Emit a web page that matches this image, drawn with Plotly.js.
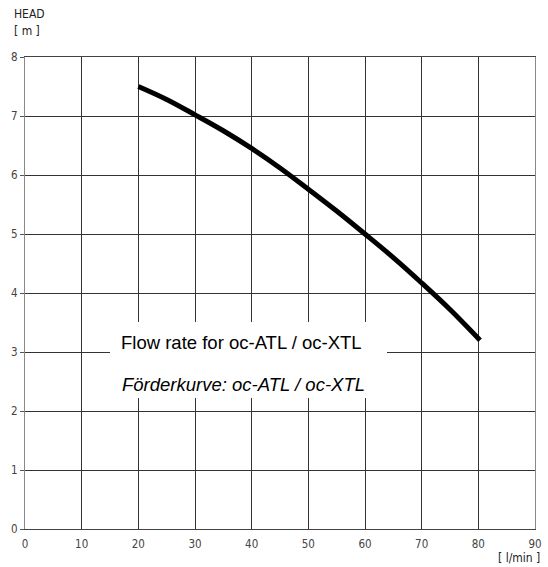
<!DOCTYPE html>
<html>
<head>
<meta charset="utf-8">
<script src="https://cdn.plot.ly/plotly-3.0.1.min.js"></script>
<style>html,body{margin:0;padding:0;background:#fff;}#chart{width:548px;height:567px;}</style>
</head>
<body>
<div id="chart"></div>
<script>
const flowRate = [20, 25, 30, 35, 40, 45, 50, 55, 60, 65, 70, 75, 80.3];
const head = [7.5, 7.28, 7.02, 6.75, 6.45, 6.12, 5.76, 5.39, 5.0, 4.6, 4.17, 3.72, 3.2];
const xTicks = [0, 10, 20, 30, 40, 50, 60, 70, 80, 90];
const yTicks = [0, 1, 2, 3, 4, 5, 6, 7, 8];
const titleEn = 'Flow rate for oc-ATL / oc-XTL';
const titleDe = 'Förderkurve: oc-ATL / oc-XTL';

const tickFont = {family: 'DejaVu Sans Condensed, DejaVu Sans', size: 11.5, color: '#444'};
const labelFont = {family: 'DejaVu Sans Condensed, DejaVu Sans', size: 12, color: '#222'};

Plotly.newPlot('chart', [{
  x: flowRate, y: head, type: 'scatter', mode: 'lines',
  line: {color: '#000', width: 5, shape: 'spline'}, hoverinfo: 'none'
}], {
  width: 548, height: 567,
  margin: {l: 25, r: 13, t: 57, b: 38},
  paper_bgcolor: '#fff', plot_bgcolor: '#fff',
  showlegend: false,
  xaxis: {
    range: [0, 90], tickvals: xTicks, ticktext: xTicks.map(String),
    showgrid: true, gridcolor: '#333', gridwidth: 1, zeroline: false,
    showline: true, linecolor: '#444', linewidth: 1, mirror: true,
    ticks: '', ticklabelstandoff: 4, tickfont: tickFont, fixedrange: true
  },
  yaxis: {
    range: [0, 8], tickvals: yTicks, ticktext: yTicks.map(String),
    showgrid: true, gridcolor: '#333', gridwidth: 1, zeroline: false,
    showline: true, linecolor: '#888', linewidth: 1, mirror: true,
    ticks: 'outside', ticklen: 4, tickcolor: '#555', tickfont: tickFont, fixedrange: true
  },
  shapes: [{
    type: 'rect', xref: 'paper', yref: 'paper', layer: 'above',
    x0: (110 - 25) / 510, x1: (387 - 25) / 510,
    y0: (529 - 398) / 472, y1: (529 - 322) / 472,
    fillcolor: '#fff', line: {width: 0}
  }],
  annotations: [
    {text: 'HEAD', xref: 'paper', yref: 'paper', x: -13/510, y: (529 - 14) / 472, xanchor: 'left', yanchor: 'middle', showarrow: false, font: labelFont},
    {text: '[ m ]', xref: 'paper', yref: 'paper', x: -13/510, y: (529 - 31) / 472, xanchor: 'left', yanchor: 'middle', showarrow: false, font: labelFont},
    {text: '[ l/min ]', xref: 'paper', yref: 'paper', x: (542 - 25) / 510, y: (529 - 558) / 472, xanchor: 'right', yanchor: 'middle', showarrow: false, font: labelFont},
    {text: titleEn, xref: 'paper', yref: 'paper', x: (241 - 25) / 510, y: (529 - 342) / 472, xanchor: 'center', yanchor: 'middle', showarrow: false, font: {family: 'Liberation Sans, Arial', size: 18.5, color: '#000'}},
    {text: '<i>' + titleDe + '</i>', xref: 'paper', yref: 'paper', x: (243 - 25) / 510, y: (529 - 385) / 472, xanchor: 'center', yanchor: 'middle', showarrow: false, font: {family: 'Liberation Sans, Arial', size: 18.5, color: '#000'}}
  ]
}, {staticPlot: true});
</script>
</body>
</html>
